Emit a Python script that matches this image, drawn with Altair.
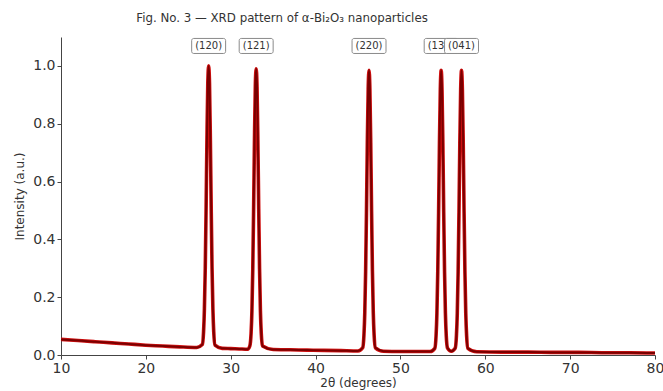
import altair as alt
import pandas as pd

two_theta = [
    10, 12, 14, 16, 18, 20, 22, 24, 26,
    26.65, 26.8, 26.9, 27.0, 27.1, 27.2, 27.3, 27.4, 27.5, 27.6, 27.7, 27.8, 27.9, 28.0, 28.15,
    29, 30, 31, 32,
    32.25, 32.4, 32.5, 32.6, 32.7, 32.8, 32.9, 33.0, 33.1, 33.2, 33.3, 33.4, 33.5, 33.6, 33.75,
    35, 37, 39, 41, 43, 45,
    45.55, 45.7, 45.8, 45.9, 46.0, 46.1, 46.2, 46.3, 46.4, 46.5, 46.6, 46.7, 46.8, 46.9, 47.05,
    48, 50, 52, 53.5,
    54.05, 54.2, 54.3, 54.4, 54.5, 54.6, 54.7, 54.8, 54.9, 55.0, 55.1, 55.2, 55.3, 55.4, 55.55,
    56.0,
    56.45, 56.6, 56.7, 56.8, 56.9, 57.0, 57.1, 57.2, 57.3, 57.4, 57.5, 57.6, 57.7, 57.8, 57.95,
    59, 62, 65, 68, 71, 74, 77, 80,
]
intensity = [
    0.054, 0.050, 0.046, 0.042, 0.038, 0.034, 0.031, 0.028, 0.026,
    0.036, 0.080, 0.160, 0.300, 0.510, 0.750, 0.940, 1.000, 0.940, 0.750, 0.510, 0.300, 0.160, 0.080, 0.034,
    0.023, 0.022, 0.021, 0.020,
    0.031, 0.075, 0.153, 0.297, 0.505, 0.743, 0.930, 0.990, 0.930, 0.743, 0.505, 0.297, 0.153, 0.075, 0.031,
    0.019, 0.018, 0.017, 0.016, 0.015, 0.014,
    0.025, 0.069, 0.147, 0.290, 0.497, 0.735, 0.920, 0.985, 0.920, 0.735, 0.497, 0.290, 0.147, 0.069, 0.025,
    0.013, 0.012, 0.012, 0.012,
    0.023, 0.067, 0.145, 0.288, 0.495, 0.733, 0.918, 0.985, 0.918, 0.733, 0.495, 0.288, 0.145, 0.067, 0.024,
    0.013,
    0.023, 0.067, 0.145, 0.288, 0.495, 0.733, 0.918, 0.985, 0.918, 0.733, 0.495, 0.288, 0.145, 0.067, 0.023,
    0.011, 0.010, 0.010, 0.009, 0.009, 0.008, 0.008, 0.007,
]

# Miller-index labels
hkl_labels = ["(120)", "(121)", "(220)", "(131)"]
hkl_pos = [27.4, 33.0, 46.3, 54.8]
top_label = ["(041)"]
top_pos = [57.2]
label_level = 1.069

spec = pd.DataFrame({"tt": two_theta, "I": intensity})
lab = pd.DataFrame({"t": hkl_labels, "x": hkl_pos, "y": [label_level] * len(hkl_pos)})
lab2 = pd.DataFrame({"t": top_label, "x": top_pos, "y": [label_level] * len(top_pos)})

FONT = "DejaVu Sans"
xs = alt.Scale(domain=[10, 80], nice=False)
ys = alt.Scale(domain=[0, 1.1], nice=False)

x_enc = alt.X("tt:Q", scale=xs, title="2θ (degrees)",
              axis=alt.Axis(values=[10, 20, 30, 40, 50, 60, 70, 80], format="d",
                            labelFlush=False, titlePadding=2))
y_enc = alt.Y("I:Q", scale=ys, title="Intensity (a.u.)",
              axis=alt.Axis(values=[0, 0.2, 0.4, 0.6, 0.8, 1.0], format=".1f",
                            labelFlush=False, titlePadding=6))

base = alt.Chart(spec)
halo = base.mark_line(color="#d01010", strokeWidth=3.6, interpolate="monotone").encode(x=x_enc, y=y_enc)
core = base.mark_line(color="#7a0000", strokeWidth=2.0, interpolate="monotone").encode(x="tt:Q", y="I:Q")


def boxes(df):
    return alt.Chart(df).transform_calculate(
        x1="datum.x - 2.0", x2="datum.x + 2.0", y1="datum.y - 0.026", y2="datum.y + 0.026"
    ).mark_rect(fill="white", stroke="#8a8a8a", strokeWidth=1, cornerRadius=2).encode(
        x=alt.X("x1:Q", scale=xs), x2="x2:Q", y=alt.Y("y1:Q", scale=ys), y2="y2:Q"
    )


def texts(df):
    return alt.Chart(df).mark_text(font=FONT, fontSize=10, color="#333333").encode(
        x=alt.X("x:Q", scale=xs), y=alt.Y("y:Q", scale=ys), text="t:N"
    )


chart = alt.layer(
    halo, core, boxes(lab), texts(lab), boxes(lab2), texts(lab2)
).properties(
    width=594,
    height=318,
    autosize=alt.AutoSizeParams(type="none"),
    padding={"left": 61, "top": 37, "right": 8, "bottom": 36},
    background="white",
    title=alt.TitleParams(
        "Fig. No. 3 — XRD pattern of α-Bi₂O₃ nanoparticles",
        font=FONT, fontSize=11.8, fontWeight="normal", color="#333333",
        anchor="middle", dx=-76, offset=12,
    ),
).configure_view(stroke=None).configure_axis(
    grid=False,
    labelFont=FONT, labelFontSize=14, labelColor="#333333",
    titleFont=FONT, titleFontSize=12, titleFontWeight="normal", titleColor="#333333",
    domainColor="#444444", tickColor="#444444", tickSize=4, labelPadding=2,
)

chart.save("out.html", embed_options={"renderer": "svg", "actions": False})
